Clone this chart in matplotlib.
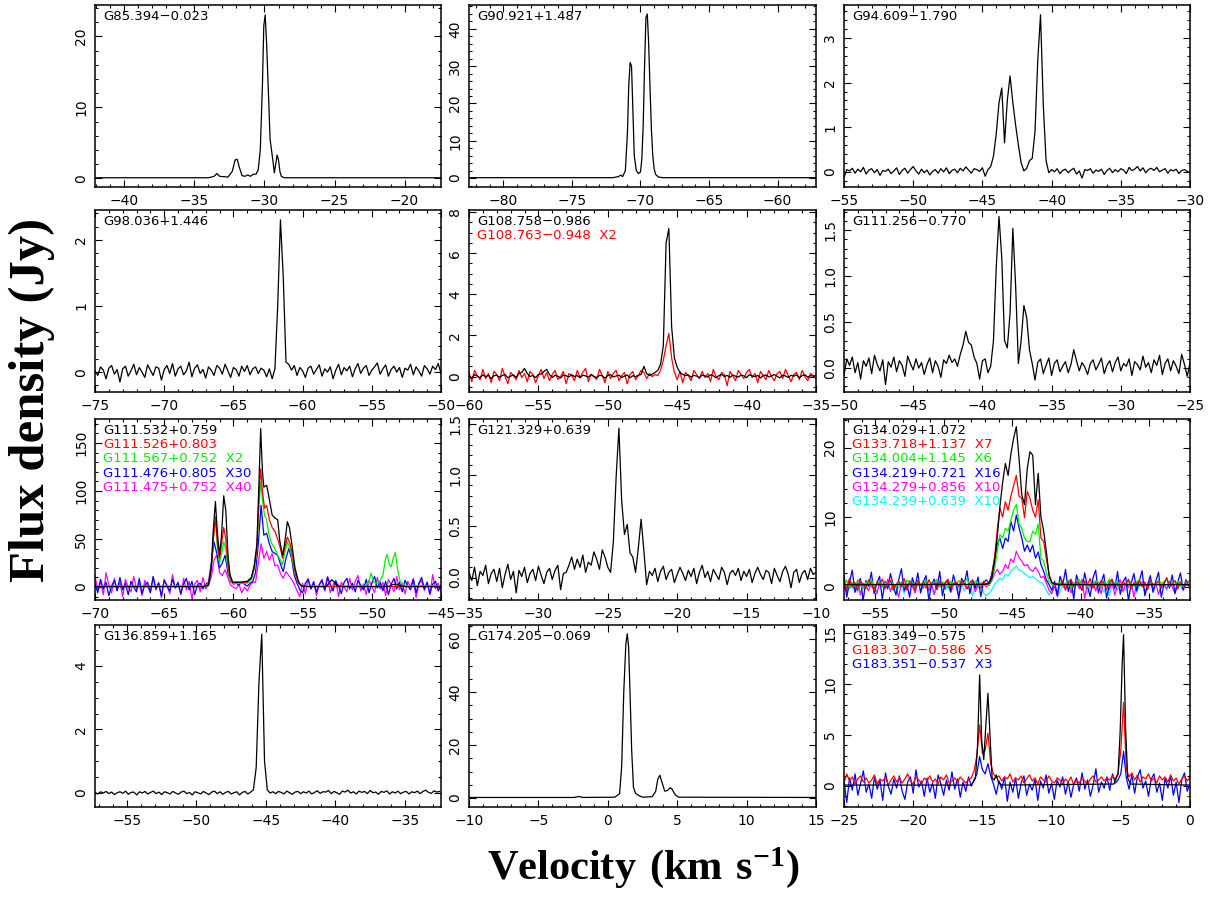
import numpy as np
import matplotlib
matplotlib.use('Agg')
import matplotlib.pyplot as plt
from matplotlib.ticker import MultipleLocator

# fonts: sans for the ticks, bold serif for the two big axis titles
plt.rcParams['font.family'] = 'DejaVu Sans'
plt.rcParams['mathtext.fontset'] = 'custom'
plt.rcParams['mathtext.rm'] = 'Liberation Serif:bold'
plt.rcParams['mathtext.bf'] = 'Liberation Serif:bold'

M = '\u2212'
DV = 0.2  # channel width (km/s) of the noisy spectra

# ---------------- data ----------------
# G85.394-0.023
g85_v = [-42.1, -34.0, -33.6, -33.4, -33.2, -32.6, -32.3, -32.1, -31.95, -31.8, -31.6, -31.4,
         -31.2, -31.0, -30.8, -30.6, -30.45, -30.3, -30.15, -30.05, -29.95, -29.85, -29.7,
         -29.6, -29.5, -29.4, -29.3, -29.2, -29.1, -29.0, -28.9, -28.8, -28.6, -28.2, -17.4]
g85_f = [0.1, 0.1, 0.3, 0.7, 0.3, 0.2, 1.0, 2.6, 2.7, 1.6, 0.4, 0.3,
         0.5, 0.3, 0.6, 0.6, 1.2, 4.0, 13, 21.5, 23.0, 19, 11,
         5.5, 4.0, 2.5, 0.8, 2.0, 3.3, 2.6, 1.0, 0.3, 0.1, 0.1, 0.1]

# G90.921+1.487
g90_v = [-82.5, -72.0, -71.6, -71.45, -71.3, -71.1, -70.95, -70.85, -70.75, -70.65, -70.55,
         -70.45, -70.3, -70.15, -70.0, -69.9, -69.8, -69.7, -69.6, -69.5, -69.4, -69.3,
         -69.2, -69.1, -69.0, -68.9, -68.7, -68.4, -57.2]
g90_f = [0.1, 0.1, 0.4, 0.8, 0.4, 2, 12, 25, 31, 30, 18,
         6, 2, 1.2, 1.6, 5, 14, 30, 43, 44, 36, 24,
         13, 6, 2.5, 1.0, 0.3, 0.1, 0.1]

# G94.609-1.790 (starts at -55, 0.2 km/s channels)
g94_f = [-0.13, 0.05, 0.02, 0.08, -0.03, 0.06, 0.00, 0.10, -0.05, 0.04,
         0.07, -0.02, 0.05, -0.08, 0.03, 0.01, 0.06, -0.04, 0.02, 0.09,
         -0.06, 0.03, 0.08, -0.03, 0.05, 0.12, 0.02, -0.05, 0.06, -0.02,
         0.04, -0.07, 0.01, 0.05, -0.03, 0.07, 0.00, 0.09, -0.04, 0.03,
         0.06, -0.02, 0.08, 0.02, 0.11, 0.04, -0.03, 0.07, 0.05, 0.01,
         0.09, -0.10, 0.05,
         0.12, 0.35, 0.85, 1.55, 1.88, 0.65, 1.6, 2.15, 1.55, 1.05, 0.6, 0.2, 0.02,
         0.08, 0.25, 0.3, 0.9, 2.5, 3.52, 1.5, 0.25, -0.02,
         0.05, 0.00, 0.07, -0.04, 0.03, 0.06, -0.02, 0.04, 0.08, -0.05,
         0.02, -0.14, 0.05, 0.03, 0.07, -0.03, 0.04, 0.01, 0.06, -0.06,
         0.03, 0.08, -0.02, 0.05, 0.00, 0.07, 0.04, -0.04, 0.10, 0.03,
         0.06, 0.12, 0.02, 0.09, -0.02, 0.05, 0.08, 0.03, 0.10, 0.00,
         0.04, 0.07, -0.03, 0.05, 0.02, 0.06, -0.04, 0.03, 0.05, 0.01, -0.02]

# G98.036+1.446 (starts at -75)
g98_f = [0.02, -0.05, 0.08, 0.03, -0.10, 0.06, 0.10, -0.03, 0.04, -0.15,
         0.05, 0.09, -0.06, 0.02, 0.12, -0.04, 0.07, 0.00, -0.08, 0.11,
         0.03, -0.05, 0.08, 0.06, -0.12, 0.04, 0.10, -0.02, 0.13, -0.06,
         0.05, 0.09, -0.04, 0.02, 0.15, -0.07, 0.06, 0.11, -0.02, 0.04,
         -0.09, 0.08, 0.03, -0.05, 0.10, 0.06, -0.03, 0.12, 0.02, -0.08,
         0.07, 0.04, -0.06, 0.09, 0.01, 0.10, -0.04, 0.05, 0.08, -0.02,
         0.06, 0.03, -0.07, 0.05, -0.10,
         0.05, 1.0, 2.3, 1.45, 0.15, 0.12,
         0.03, 0.10, -0.05, 0.07, 0.02, -0.08, 0.06, 0.09, -0.03, 0.04,
         0.11, -0.06, 0.05, 0.00, 0.08, -0.10, 0.03, 0.12, -0.04, 0.07,
         0.02, 0.09, -0.07, 0.05, 0.13, -0.02, 0.06, 0.10, -0.05, 0.03,
         0.08, 0.14, -0.03, 0.05, 0.11, -0.06, 0.04, 0.09, 0.00, 0.07,
         -0.08, 0.06, 0.03, 0.12, -0.04, 0.08, 0.02, -0.06, 0.10, 0.05,
         -0.03, 0.09, 0.04, 0.13, -0.02]

# G108.758-0.986 (black) and G108.763-0.948 x2 (red), start at -60
g108a_f = [0.05, -0.08, 0.10, 0.02, -0.05, 0.08, 0.00, 0.06, -0.10, 0.04,
           0.07, -0.03, 0.05, 0.10, -0.06, 0.02, 0.08, -0.04, 0.15, 0.20,
           0.40, 0.15, 0.00, 0.06, -0.05, 0.10, 0.12, 0.25, 0.35, 0.10,
           -0.04, 0.06, 0.02, -0.07, 0.08, 0.04, -0.02, 0.09, 0.00, 0.05,
           -0.06, 0.07, 0.03, -0.03, 0.10, 0.01, -0.05, 0.06, 0.04, -0.08,
           0.05, 0.09, -0.02, 0.03, 0.07, -0.04, 0.02, 0.08, -0.06, 0.04,
           0.00, 0.06, 0.10, 0.50, 0.15, 0.05, 0.12, 0.20,
           0.30, 0.60, 1.50, 6.50, 7.20, 2.40, 0.90, 0.45, 0.20, 0.10,
           0.05, 0.08, -0.03, 0.06, 0.02, -0.05, 0.07, 0.03, -0.02, 0.09,
           0.04, -0.06, 0.05, 0.10, 0.00, 0.06, -0.04, 0.08, 0.02, -0.03,
           0.07, 0.04, -0.05, 0.09, 0.03, 0.00, 0.06, -0.07, 0.05, 0.08,
           -0.02, 0.04, 0.10, 0.01, -0.06, 0.07, 0.03, -0.04, 0.06, 0.02,
           0.08, -0.05, 0.04, 0.09, -0.03, 0.05, 0.02, 0.06]
g108b_f = [0.20, -0.25, 0.30, 0.05, -0.15, 0.35, -0.10, 0.15, -0.30, 0.25,
           0.10, -0.20, 0.40, 0.00, -0.35, 0.20, 0.05, -0.15, 0.30, -0.05,
           0.15, -0.25, 0.25, 0.10, -0.30, 0.05, 0.35, -0.10, 0.20, -0.20,
           0.10, 0.30, -0.15, 0.00, 0.25, -0.35, 0.15, 0.05, -0.20, 0.30,
           -0.05, 0.20, 0.40, -0.25, 0.10, 0.00, -0.15, 0.35, 0.05, -0.30,
           0.25, -0.10, 0.15, 0.30, -0.20, 0.05, 0.20, -0.35, 0.10, 0.25,
           -0.15, 0.05, 0.30, 0.20, -0.10, 0.15, 0.00, 0.10,
           0.05, 0.30, 0.80, 1.50, 2.10, 0.90, 0.20, -0.15, 0.25, -0.30,
           0.20, 0.05, -0.20, 0.30, 0.10, -0.10, 0.25, -0.05, 0.15, -0.25,
           0.35, 0.00, -0.15, 0.20, 0.10, -0.45, 0.25, 0.05, -0.20, 0.30,
           0.10, -0.10, 0.20, 0.35, -0.05, 0.15, -0.30, 0.25, 0.05, -0.15,
           0.30, 0.00, -0.20, 0.15, 0.25, -0.10, 0.35, 0.05, -0.25, 0.10,
           0.20, -0.15, 0.30, 0.00, -0.20, 0.15, 0.05, -0.10]

# G111.256-0.770 (starts at -50)
g111_256_f = [-0.08, 0.10, 0.03, 0.12, -0.05, 0.06, -0.12, 0.08, 0.02, 0.11,
              -0.06, 0.14, 0.04, -0.03, 0.09, -0.18, 0.07, 0.01, 0.12, -0.04,
              0.08, 0.03, -0.09, 0.13, 0.05, -0.02, 0.10, 0.00, 0.06, -0.07,
              0.04, 0.11, -0.05, 0.08, 0.02, -0.10, 0.09, 0.05, 0.14, 0.06,
              0.10, 0.02, 0.15, 0.25, 0.40, 0.28, 0.25, 0.12, 0.05, -0.12,
              0.08, 0.10, -0.05, 0.02, 0.30, 1.10, 1.65, 1.20, 0.30, 0.22,
              0.60, 1.52, 0.90, 0.05, 0.30, 0.68, 0.55, 0.20, 0.05, -0.13,
              0.06, 0.10, -0.06, 0.03, 0.11, -0.08, 0.05, 0.09, -0.04, 0.02,
              0.07, -0.05, 0.04, 0.20, 0.08, -0.03, 0.06, 0.01, -0.07, 0.05,
              0.09, -0.02, 0.04, 0.11, -0.06, 0.03, 0.08, -0.04, 0.06, 0.12,
              -0.03, 0.05, 0.02, 0.10, -0.08, 0.07, 0.04, -0.02, 0.13, 0.01,
              0.06, -0.05, 0.09, 0.03, 0.14, -0.07, 0.05, 0.10, -0.03, 0.08,
              0.02, -0.06, 0.15, 0.04, -0.09, 0.06]

# G111.532+0.759 group
g111a_v = [-70, -62.2, -61.8, -61.6, -61.45, -61.3, -61.15, -61.0, -60.85, -60.7, -60.55,
           -60.4, -60.25, -60.05, -59.5, -59.0, -58.7, -58.5, -58.3, -58.15, -58.03, -57.9,
           -57.8, -57.6, -57.45, -57.2, -57.0, -56.8, -56.65, -56.45, -56.3, -56.1, -55.95,
           -55.8, -55.55, -55.3, -55.1, -54.5, -53.3, -53.1, -52.9, -52.7, -52.5, -52.0,
           -48.8, -48.5, -48.2, -47.9, -47.5, -45]
g111a_f = [0.5, 0.5, 2, 20, 60, 89, 55, 33, 55, 95, 80,
           35, 13, 5, 5, 6, 10, 22, 45, 110, 165, 120,
           104, 106, 95, 75, 72, 70, 48, 33, 45, 68, 62,
           47, 20, 6, 1, 0.5, 0.5, 4, 7.5, 5, 1, 0.5,
           0.5, 2.5, 3, 1, 0.5, 0.5]
g111b_v = [-70, -62.2, -61.8, -61.6, -61.45, -61.3, -61.15, -61.0, -60.85, -60.7, -60.55,
           -60.4, -60.25, -60.05, -59.0, -58.7, -58.5, -58.3, -58.15, -58.03, -57.9, -57.75,
           -57.6, -57.4, -57.2, -57.0, -56.8, -56.6, -56.45, -56.3, -56.1, -55.9, -55.7,
           -55.5, -55.3, -55.0, -45]
g111b_f = [0.5, 0.5, 2, 18, 50, 73, 45, 30, 45, 62, 50,
           25, 10, 5, 5, 9, 20, 40, 95, 123, 100, 82,
           85, 70, 62, 58, 50, 40, 30, 40, 52, 45, 30,
           13, 4, 0.5, 0.5]
g111c_v = [-70, -62.2, -61.8, -61.6, -61.45, -61.3, -61.15, -61.0, -60.85, -60.7, -60.55,
           -60.4, -60.25, -60.05, -59.0, -58.7, -58.5, -58.3, -58.15, -58.03, -57.9, -57.75,
           -57.6, -57.45, -57.25, -57.0, -56.8, -56.6, -56.45, -56.3, -56.1, -55.9, -55.7,
           -55.5, -55.3, -55.0, -50.5, -50.25, -50.05, -49.85, -49.5, -49.2, -49.0, -48.9,
           -48.75, -48.6, -48.45, -48.3, -48.15, -47.96, -47.6, -45]
g111c_f = [1, 1, 3, 20, 50, 71, 40, 25, 35, 47, 40,
           20, 8, 4, 4, 8, 18, 40, 85, 109, 90, 75,
           70, 56, 46, 40, 33, 28, 23, 35, 47, 40, 25,
           13, 4, 1, 1, 4, 14.5, 5, 4, 12, 30, 34,
           24, 21, 30, 36, 20, 6, 1.5, 1]
# x30 and x40 spectra, start at -70
g111d_f = [3, -6, 8, -2, 5, -9, 1, 7, -4, 10,
           -3, 4, -8, 6, 0, -5, 9, -7, 2, 5,
           -6, 11, -2, 4, -9, 7, 1, -4, 8, -1,
           5, -7, 3, 9, -3, 6, -8, 2, 4, -2,
           3,
           5, 25, 47, 35, 20, 25, 33, 15, 6, 3, 4, 2, 5, 3, 1, 4, 6,
           15, 45, 85, 54, 56, 45, 37, 35, 33, 24, 16, 30, 40, 30, 12, 4, -3,
           -6, 4, 8, -2, 5, -5, 2, 7, -3, 10,
           3, -4, 6, 1, -7, 5, 9, -2, 4, -5,
           7, 2, -3, 8, -6, 4, 11, -1, 5, -4,
           6, -8, 3, 9, -2, 5, -5, 7, 1, -3,
           8, -6, 4, 10, -2, 5, -7, 3, 6, -4, 2]
g111e_f = [12, -4, 6, -8, 15, 2, -6, 9, -3, 5,
           -10, 8, 0, -5, 11, -2, 4, -9, 7, 1,
           -6, 10, -3, 5, -11, 8, 2, -7, 13, -1,
           4, -8, 9, -3, 6, -12, 3, 7, -5, 10,
           -2, 2,
           10, 28, 33, 15, 12, 18, 10, 2, 0, -2, 3, -6, 0, -4, 2, 5,
           5, 25, 45, 30, 37, 28, 35, 22, 23, 14, 9, 16, 12, 8, 3, -4, -10,
           4, -7, 9, -2, 6, -9, 3, 8, -4, 11,
           -6, 2, 7, -10, 5, 0, -5, 9, -3, 6,
           12, -4, 3, -8, 7, 1, -6, 10, -2, 5,
           -9, 8, 2, -5, 11, -3, 4, -7, 6, 0,
           9, -11, 3, 7, -4, 5, -8, 13, -2, 4, -6]

# G121.329+0.639 (starts at -35)
g121_f = [0.05, -0.03, 0.10, -0.08, 0.06, 0.02, 0.12, -0.06, 0.04, 0.08,
          -0.04, 0.09, -0.10, 0.03, 0.13, -0.02, 0.06, -0.15, 0.07, 0.01,
          0.10, -0.05, 0.04, 0.08, -0.03, 0.11, 0.02, -0.06, 0.05, 0.09,
          -0.02, 0.07, 0.12, -0.12, 0.04,
          0.05, 0.12, 0.20, 0.08, 0.18, 0.10, 0.22, 0.05, 0.15, 0.12, 0.25, 0.18, 0.08,
          0.27, 0.20, 0.10, 0.05, 0.35, 0.98, 1.46, 0.75, 0.42, 0.52, 0.24, 0.20, 0.05,
          0.29, 0.57, 0.26, -0.07, 0.06,
          0.02, 0.09, -0.04, 0.06, 0.11, -0.02, 0.05, 0.08, -0.05, 0.03,
          0.10, 0.04, -0.03, 0.07, 0.01, 0.09, -0.06, 0.05, 0.12, 0.00,
          0.06, -0.04, 0.08, 0.03, -0.02, 0.10, 0.05, -0.07, 0.04, 0.07,
          0.02, 0.09, -0.03, 0.06, 0.01, 0.08, -0.05, 0.04, 0.10, 0.03,
          -0.02, 0.07, 0.05, -0.06, 0.09, 0.02, -0.04, 0.06, 0.11, 0.03,
          -0.10, 0.05, 0.08, -0.05, 0.04, 0.07, -0.02, 0.09, 0.03, 0.05]

# G134.029+1.072 group
g134a_v = [-57.3, -47.0, -46.9, -46.7, -46.5, -46.3, -46.1, -45.9, -45.7, -45.5, -45.3,
           -45.1, -44.9, -44.7, -44.5, -44.3, -44.1, -43.9, -43.7, -43.5, -43.3, -43.1,
           -42.9, -42.7, -42.5, -42.3, -42.1, -41.9, -41.6, -32.0]
g134a_f = [0.3, 0.35, 0.4, 0.5, 1.2, 3.5, 7, 11.5, 15, 17.7, 16,
           19, 21.3, 23, 18.4, 13.2, 11.8, 17, 19.4, 18.9, 11.8, 16.3,
           10, 8, 5, 1.5, 0.6, 0.4, 0.3, 0.3]
# scaled spectra, start at -57.3
g134b_f = [0.8, -0.3, 1.2, 0.1, 0.6, -0.5, 0.9, 0.3, -0.2, 1.0,
           0.4, -0.6, 0.7, 0.2, 1.1, -0.1, 0.5, 0.9, -0.4, 0.3,
           0.8, 0.0, 1.2, -0.3, 0.6, 0.4, -0.5, 0.9, 0.2, 0.7,
           -0.2, 1.0, 0.3, 0.5, -0.4, 0.8, 0.1, 0.6, 1.1, -0.1,
           0.4, 0.7, 0.0, 0.9, 0.3, -0.3, 0.6, 1.0, 0.2, 0.5,
           -0.2, 0.8, 0.3,
           0.5, 1.5, 4, 8, 11.3, 10, 12.2, 11, 13, 14.5, 16, 13, 12.7,
           9.9, 13.7, 12.7, 11, 10, 12.5, 7, 6.5, 4, 1.8, 0.6, 0.3,
           0.5, 0.2, 0.9, -0.3, 0.6, 1.1, 0.0, 0.7, 0.4, -0.5,
           0.8, 0.3, 1.2, -0.2, 0.6, 0.1, 0.9, 0.4, -0.4, 0.7,
           1.0, 0.2, 0.5, -0.1, 0.8, 0.3, 1.1, -0.3, 0.6, 0.4,
           0.9, 0.0, 0.7, -0.4, 1.0, 0.3, 0.5, 0.8, -0.2, 0.6,
           1.2, 0.1, 0.4, 0.9, -0.3, 0.7, 0.2, 0.5, 0.8]
g134c_f = [0.4, 0.9, -0.2, 0.6, 0.1, 0.8, 0.3, -0.3, 0.7, 0.5,
           1.0, 0.0, 0.4, 0.8, -0.1, 0.6, 0.2, 0.9, 0.3, -0.2,
           0.7, 0.5, 0.1, 1.0, 0.4, 0.6, -0.3, 0.8, 0.2, 0.5,
           0.9, 0.0, 0.6, 0.3, 1.1, 0.1, 0.7, 0.4, -0.2, 0.8,
           0.5, 0.2, 0.9, 0.3, 0.6, 1.2, 0.0, 0.5, 0.8, 0.3,
           0.6, 0.2, 0.4,
           0.3, 1, 2.5, 5, 7.5, 7, 8.4, 8, 9.5, 11, 11.8, 9, 8.4,
           7, 6.5, 6.5, 8, 7.5, 9, 4.1, 3.7, 2, 0.8, 0.3, 0.2,
           0.3, 0.7, 0.1, 0.5, 0.9, -0.2, 0.6, 0.4, 1.0, 0.2,
           0.8, 0.0, 0.5, 0.3, 0.9, 0.6, -0.1, 0.7, 0.4, 1.1,
           0.2, 0.5, 0.8, 0.0, 0.6, 0.3, 0.9, 0.5, 0.1, 0.7,
           1.0, 0.3, 0.6, -0.2, 0.8, 0.4, 0.2, 0.9, 0.5, 0.7,
           1.2, 0.1, 0.6, 0.3, 0.8, 0.4, 0.0, 0.7, 0.5]
g134d_f = [1.8, -1.5, 0.6, 2.4, -0.8, 0.3, 1.2, -2.0, 0.9, 0.1,
           2.1, -1.0, 0.5, 1.5, -1.8, 0.8, -0.3, 1.9, 0.2, -1.2,
           1.0, 2.6, -0.6, 0.4, -1.5, 1.3, 0.0, 2.0, -0.9, 0.7,
           1.6, -1.9, 0.3, 1.1, -0.4, 2.2, -1.3, 0.6, 0.9, -0.7,
           1.7, 0.2, -1.6, 1.2, 0.5, 2.3, -1.0, 0.8, -0.2, 1.4,
           -1.4, 0.6, 1.0,
           0.5, 1.8, 4, 6, 7, 5.5, 7, 6.5, 9.4, 8, 10.3, 8.5, 7,
           5.1, 6, 5, 6, 4.1, 5, 3.2, 2.2, 1, 0.3, -0.5, 0.8,
           -1.2, 1.5, 0.3, 2.5, -0.7, 0.9, -1.8, 1.7, 0.4, -0.5,
           2.0, 0.1, -1.4, 1.2, 2.4, -0.9, 0.6, 1.8, -1.6, 0.2,
           1.1, -0.3, 2.2, -1.1, 0.7, 1.4, -2.0, 0.5, 1.9, -0.6,
           0.9, 2.3, -1.3, 0.3, 1.6, -0.8, 0.8, 2.1, -1.5, 0.4,
           1.3, -0.2, 1.7, -1.0, 0.6, 2.0, -0.4, 1.0, 0.2]
g134e_f = [0.3, -0.8, 0.9, 0.1, -0.4, 1.0, -1.2, 0.5, 0.2, -0.6,
           0.8, 0.0, -1.0, 0.6, 0.3, -0.3, 1.1, -0.7, 0.4, 0.0,
           -1.5, 0.7, 0.2, -0.5, 0.9, 0.1, -0.9, 0.6, 0.3, -0.2,
           1.0, -0.6, 0.4, -1.1, 0.7, 0.0, 0.5, -0.4, 0.8, -0.8,
           0.2, 0.6, -1.3, 0.3, 0.9, -0.3, 0.1, 0.7, -0.7, 0.4,
           -0.2, 0.5, 0.0,
           0.2, 0.8, 1.8, 2.5, 1.8, 2.2, 3.2, 2.6, 4, 3.5, 5.1, 4.2, 3.7,
           3, 3.2, 2.5, 2.2, 2.8, 2.2, 1.3, 1.5, 0.5, -0.5, -1.0, 0.2,
           -1.4, 0.6, 0.2, -0.5, 0.9, -0.9, 0.3, 0.7, -0.3, 1.1,
           -1.7, 0.4, 0.0, 0.8, -0.6, 0.5, -1.0, 0.9, 0.2, -0.4,
           0.6, -1.2, 0.3, 1.0, -0.7, 0.4, -0.1, 0.8, -1.5, 0.5,
           0.1, 0.7, -0.8, 0.3, 0.9, -0.4, 0.6, -1.1, 0.2, 0.5,
           -0.3, 0.8, 0.0, -0.9, 0.4, 0.7, -0.5, 0.3, 0.1]
g134f_f = [0.2, -0.5, 0.6, -0.2, 0.3, -0.8, 0.5, 0.0, -0.4, 0.7,
           -0.1, 0.4, -0.9, 0.2, 0.5, -0.3, 0.1, 0.8, -0.6, 0.3,
           -0.2, 0.6, -1.0, 0.4, 0.0, 0.5, -0.4, 0.7, -0.7, 0.2,
           0.9, -0.3, 0.1, -1.2, 0.4, 0.6, -0.5, 0.3, 0.0, -0.8,
           0.5, 0.2, -0.3, 0.7, -0.6, 0.1, 0.4, -1.4, 0.3, -0.2,
           0.5, -0.9, -1.3,
           -1.0, -0.5, 0.3, 0.8, 1.2, 1.0, 1.8, 1.5, 2.2, 2.6, 3.0, 2.4, 2.2,
           1.9, 1.6, 1.3, 1.5, 1.2, 0.8, 0.6, 0.3, -0.5, -1.2, -0.4, 0.2,
           -1.5, -0.6, 0.3, -0.2, 0.5, 0.0, -0.7, 0.4, 0.2, -0.4,
           0.6, -1.0, 0.1, 0.5, -0.3, 0.7, 0.0, -0.8, 0.4, -1.3,
           0.2, 0.6, -0.5, 0.3, 0.1, -0.6, 0.8, -0.2, 0.4, -0.9,
           0.5, 0.0, 0.3, -0.4, 0.6, -0.7, 0.2, 0.5, -0.1, 0.3,
           -0.5, 0.7, 0.0, -0.3, 0.4, 0.1, -0.6, 0.5, 0.2]

# G136.859+1.165 (starts at -57.3)
g136_f = [0.02, -0.03, 0.04, 0.00, 0.05, -0.02, 0.03, -0.05, 0.01, 0.04,
          -0.01, 0.06, -0.04, 0.02, 0.03, -0.06, 0.04, 0.00, 0.05, -0.03,
          0.02, 0.06, -0.02, 0.03, -0.05, 0.04, 0.01, -0.03, 0.05, 0.00,
          -0.04, 0.03, 0.06, -0.02, 0.02, -0.06, 0.04, 0.01, -0.03, 0.05,
          0.00, -0.05, 0.03, 0.06, -0.02, 0.04, -0.04, 0.02, 0.05, -0.03,
          0.01, 0.04, -0.06, 0.02, 0.05, -0.03, 0.03,
          0.10, 0.80, 3.50, 5.00, 1.00, 0.10,
          0.00, 0.04, -0.02, 0.05, 0.02, -0.03, 0.06, 0.01, -0.04, 0.03,
          0.05, -0.02, 0.04, 0.00, 0.06, -0.03, 0.02, 0.07, -0.01, 0.04,
          0.03, 0.08, -0.02, 0.05, 0.01, -0.04, 0.06, 0.03, 0.09, 0.00,
          0.04, -0.03, 0.06, 0.02, 0.05, -0.02, 0.08, 0.01, 0.03, -0.04,
          0.05, 0.02, 0.07, -0.03, 0.04, 0.00, 0.06, -0.02, 0.03, 0.05,
          -0.03, 0.04, 0.01, 0.06, -0.02, 0.05, 0.09, 0.02, -0.01, 0.07, 0.03, 0.05]

# G174.205-0.069
g174_v = [-10, -2.4, -2.1, -1.8, 0.5, 0.85, 1.0, 1.15, 1.3, 1.4, 1.5, 1.6, 1.72, 1.85, 2.0,
          2.2, 2.5, 3.2, 3.45, 3.6, 3.75, 3.9, 4.1, 4.3, 4.5, 4.65, 4.85, 5.1, 15]
g174_f = [0.2, 0.2, 0.6, 0.2, 0.3, 1.6, 12, 40, 58, 62, 57, 40, 18, 4, 1.8,
          1.0, 0.3, 0.5, 2.5, 7, 8.6, 6, 2.6, 2.8, 3.9, 3.2, 1.2, 0.3, 0.2]

# G183.349-0.575 group
g183a_v = [-25, -15.8, -15.5, -15.35, -15.2, -15.05, -14.9, -14.75, -14.6, -14.45, -14.3,
           -14.15, -14.0, -13.85, -13.6, -5.5, -5.2, -5.05, -4.9, -4.8, -4.65, -4.5, -4.3, 0]
g183a_f = [0.1, 0.1, 0.8, 4, 10.9, 4.5, 2.6, 6, 9.1, 5, 0.8,
           0.6, 1.1, 0.4, 0.1, 0.2, 1.2, 5.2, 12, 14.85, 5.5, 0.8, 0.2, 0.1]
# x5 and x3 spectra, start at -25
g183b_f = [0.3, 1.2, 0.5, 0.9, 0.2, 0.7, 1.0, 0.4, 0.8, 0.3,
           0.6, 1.1, 0.2, 0.7, 0.5, 0.9, 0.1, 0.6, 1.0, 0.4,
           0.8, 0.3, 0.7, 1.2, 0.5, 0.2, 0.9, 0.6, 0.3, 0.8,
           0.5, 1.0, 0.4, 0.7, 0.2, 0.9, 0.6, 1.1, 0.3, 0.5,
           0.8, 0.4, 0.9, 0.6, 0.3, 0.7,
           0.8, 1.5, 3.0, 6.0, 3.2, 3.5, 5.2, 2.2, 1.2, 0.8,
           1.0, 0.5, 0.9, 0.7, 1.2, 0.4, 0.8, 0.6, 1.0, 0.3,
           0.7, 1.1, 0.5, 0.8, 0.2, 0.9, 0.6, 0.4, 1.0, 0.5,
           0.3, 0.8, 0.6, 0.2, 0.7, 0.4, 0.9, 0.1, 0.6, 0.3,
           0.8, 0.5, 0.2, 0.7, 1.0, 0.4, 0.6, 0.9, 0.5, 0.8,
           0.6, 1.0, 0.7,
           1.2, 3.5, 8.2, 1.6, 0.9,
           1.3, 0.6, 1.1, 0.4, 0.9, 0.7, 1.2, 0.5, 0.8, 0.3,
           1.0, 0.6, 0.9, 0.4, 1.1, 0.5, 0.8, 0.2, 0.7, 1.0, 0.5, 0.9]
g183c_f = [0.5, -1.6, 0.8, -0.4, 1.2, -0.9, 0.3, 1.5, -0.6, 0.2,
           -1.2, 0.9, -0.3, 0.6, -1.4, 1.3, 0.0, -0.8, 0.7, -0.2,
           1.0, -0.5, -1.3, 0.4, 0.9, -0.7, 1.6, -0.1, 0.5, -1.0,
           0.8, -0.6, 0.3, -1.2, 1.1, 0.2, -0.9, 0.6, -0.4, 1.4,
           -0.3, 0.7, -1.1, 0.4, -0.5, 0.9, 0.0, 0.6,
           1.2, 2.9, 1.6, 1.2, 2.2, 1.0, 0.2,
           -0.8, 0.5, -0.3, 0.9, -1.5, 0.4, -0.6, 0.8, -1.2, 0.3,
           1.0, -0.9, 0.2, -0.4, 0.7, -1.4, 0.5, -0.2, 1.1, -0.7,
           0.3, -1.3, 0.6, -0.1, 0.9, -0.8, 0.4, -1.1, 0.2, 0.8,
           -0.5, 1.3, -0.3, 0.6, -1.0, 0.1, 1.7, -0.6, 0.4, -0.2,
           0.9, -0.4, 1.2, 0.3, 0.6,
           1.2, 3.4, 0.8,
           -0.3, 1.1, -0.7, 0.9, 1.6, -0.2, 0.5, -1.0, 0.7, 1.2,
           -0.6, 0.3, -1.4, 0.8, -0.2, 1.0, -0.9, 0.4, -1.6, 0.6, 1.3, -0.5, 0.2]


def chan(v0, flux):
    return v0 + DV * np.arange(len(flux))


# ---------------- panels ----------------
# each: (series, labels, xlim, ylim, x major, x minor, y major, y minor)
# series entries: (velocity, flux, colour)
panels = [
    ([(g85_v, g85_f, 'k')],
     [('G85.394' + M + '0.023', 'k')],
     (-42.1, -17.4), (-1.2, 24.4), 5, 1, 10, 2),
    ([(g90_v, g90_f, 'k')],
     [('G90.921+1.487', 'k')],
     (-82.5, -57.2), (-2.4, 46.4), 5, 1, 10, 2),
    ([(chan(-55, g94_f), g94_f, 'k')],
     [('G94.609' + M + '1.790', 'k')],
     (-55, -30), (-0.34, 3.74), 5, 1, 1, 0.2),
    ([(chan(-75, g98_f), g98_f, 'k')],
     [('G98.036+1.446', 'k')],
     (-75, -50), (-0.3, 2.45), 5, 1, 1, 0.2),
    ([(chan(-60, g108b_f), g108b_f, 'r'),
      (chan(-60, g108a_f), g108a_f, 'k')],
     [('G108.758' + M + '0.986', 'k'), ('G108.763' + M + '0.948  X2', 'r')],
     (-60, -35), (-0.75, 8.1), 5, 1, 2, 0.5),
    ([(chan(-50, g111_256_f), g111_256_f, 'k')],
     [('G111.256' + M + '0.770', 'k')],
     (-50, -25), (-0.26, 1.72), 5, 1, 0.5, 0.1),
    ([(chan(-70, g111e_f), g111e_f, '#ff00ff'),
      (chan(-70, g111d_f), g111d_f, '#0000ff'),
      (g111c_v, g111c_f, '#00ee00'),
      (g111b_v, g111b_f, '#ff0000'),
      (g111a_v, g111a_f, 'k')],
     [('G111.532+0.759', 'k'), ('G111.526+0.803', '#ff0000'),
      ('G111.567+0.752  X2', '#00ee00'), ('G111.476+0.805  X30', '#0000ff'),
      ('G111.475+0.752  X40', '#ff00ff')],
     (-70, -45), (-13.5, 175), 5, 1, 50, 10),
    ([(chan(-35, g121_f), g121_f, 'k')],
     [('G121.329+0.639', 'k')],
     (-35, -10), (-0.22, 1.55), 5, 1, 0.5, 0.1),
    ([(chan(-57.3, g134f_f), g134f_f, '#00ffff'),
      (chan(-57.3, g134e_f), g134e_f, '#ff00ff'),
      (chan(-57.3, g134d_f), g134d_f, '#0000ff'),
      (chan(-57.3, g134c_f), g134c_f, '#00ee00'),
      (chan(-57.3, g134b_f), g134b_f, '#ff0000'),
      (g134a_v, g134a_f, 'k')],
     [('G134.029+1.072', 'k'), ('G133.718+1.137  X7', '#ff0000'),
      ('G134.004+1.145  X6', '#00ee00'), ('G134.219+0.721  X16', '#0000ff'),
      ('G134.279+0.856  X10', '#ff00ff'), ('G134.239+0.639  X10', '#00ffff')],
     (-57.3, -32.0), (-1.9, 24.1), 5, 1, 10, 2),
    ([(chan(-57.3, g136_f), g136_f, 'k')],
     [('G136.859+1.165', 'k')],
     (-57.3, -32.4), (-0.44, 5.29), 5, 1, 2, 0.5),
    ([(g174_v, g174_f, 'k')],
     [('G174.205' + M + '0.069', 'k')],
     (-10, 15), (-3.4, 65.3), 5, 1, 20, 5),
    ([(chan(-25, g183c_f), g183c_f, '#0000ff'),
      (chan(-25, g183b_f), g183b_f, '#ff0000'),
      (g183a_v, g183a_f, 'k')],
     [('G183.349' + M + '0.575', 'k'), ('G183.307' + M + '0.586  X5', '#ff0000'),
      ('G183.351' + M + '0.537  X3', '#0000ff')],
     (-25, 0), (-2.05, 15.8), 5, 1, 5, 1),
]

W, H = 1214, 901
cols = [(95, 441), (469, 816), (844, 1190)]
rows = [(5, 187), (210, 392), (419, 600), (625, 807)]

fig = plt.figure(figsize=(W / 100, H / 100), dpi=100)

for k, (series, labels, xl, yl, xma, xmi, yma, ymi) in enumerate(panels):
    r, c = divmod(k, 3)
    x0, x1 = cols[c]
    y0, y1 = rows[r]
    ax = fig.add_axes([x0 / W, 1 - y1 / H, (x1 - x0) / W, (y1 - y0) / H])
    for v, f, col in series:
        ax.plot(v, f, color=col, lw=0.9)
    ax.set_xlim(*xl)
    ax.set_ylim(*yl)
    ax.xaxis.set_major_locator(MultipleLocator(xma))
    ax.xaxis.set_minor_locator(MultipleLocator(xmi))
    ax.yaxis.set_major_locator(MultipleLocator(yma))
    ax.yaxis.set_minor_locator(MultipleLocator(ymi))
    ax.tick_params(which='both', direction='in', top=True, right=True,
                   width=0.8, labelsize=10)
    ax.tick_params(which='major', length=5)
    ax.tick_params(which='minor', length=2.5)
    ax.tick_params(axis='x', pad=5)
    ax.tick_params(axis='y', pad=5, labelrotation=90)
    for t in ax.get_yticklabels():
        t.set_va('center')
    for s in ax.spines.values():
        s.set_linewidth(1.1)
    for j, (txt, col) in enumerate(labels):
        ax.annotate(txt, xy=(0, 1), xycoords='axes fraction',
                    xytext=(6, -8 - 10.3 * j), textcoords='offset points',
                    ha='left', va='center', fontsize=9.5, color=col)

fig.text(643 / W, 1 - 868 / H, r'$\mathbf{Velocity\ (km\ s^{-1})}$',
         ha='center', va='center', fontsize=30.5)
fig.text(32 / W, 1 - 400 / H, 'Flux density (Jy)', rotation=90,
         ha='center', va='center', fontsize=36.5, fontweight='bold',
         family='Liberation Serif')

fig.savefig('out.png', dpi=100)
